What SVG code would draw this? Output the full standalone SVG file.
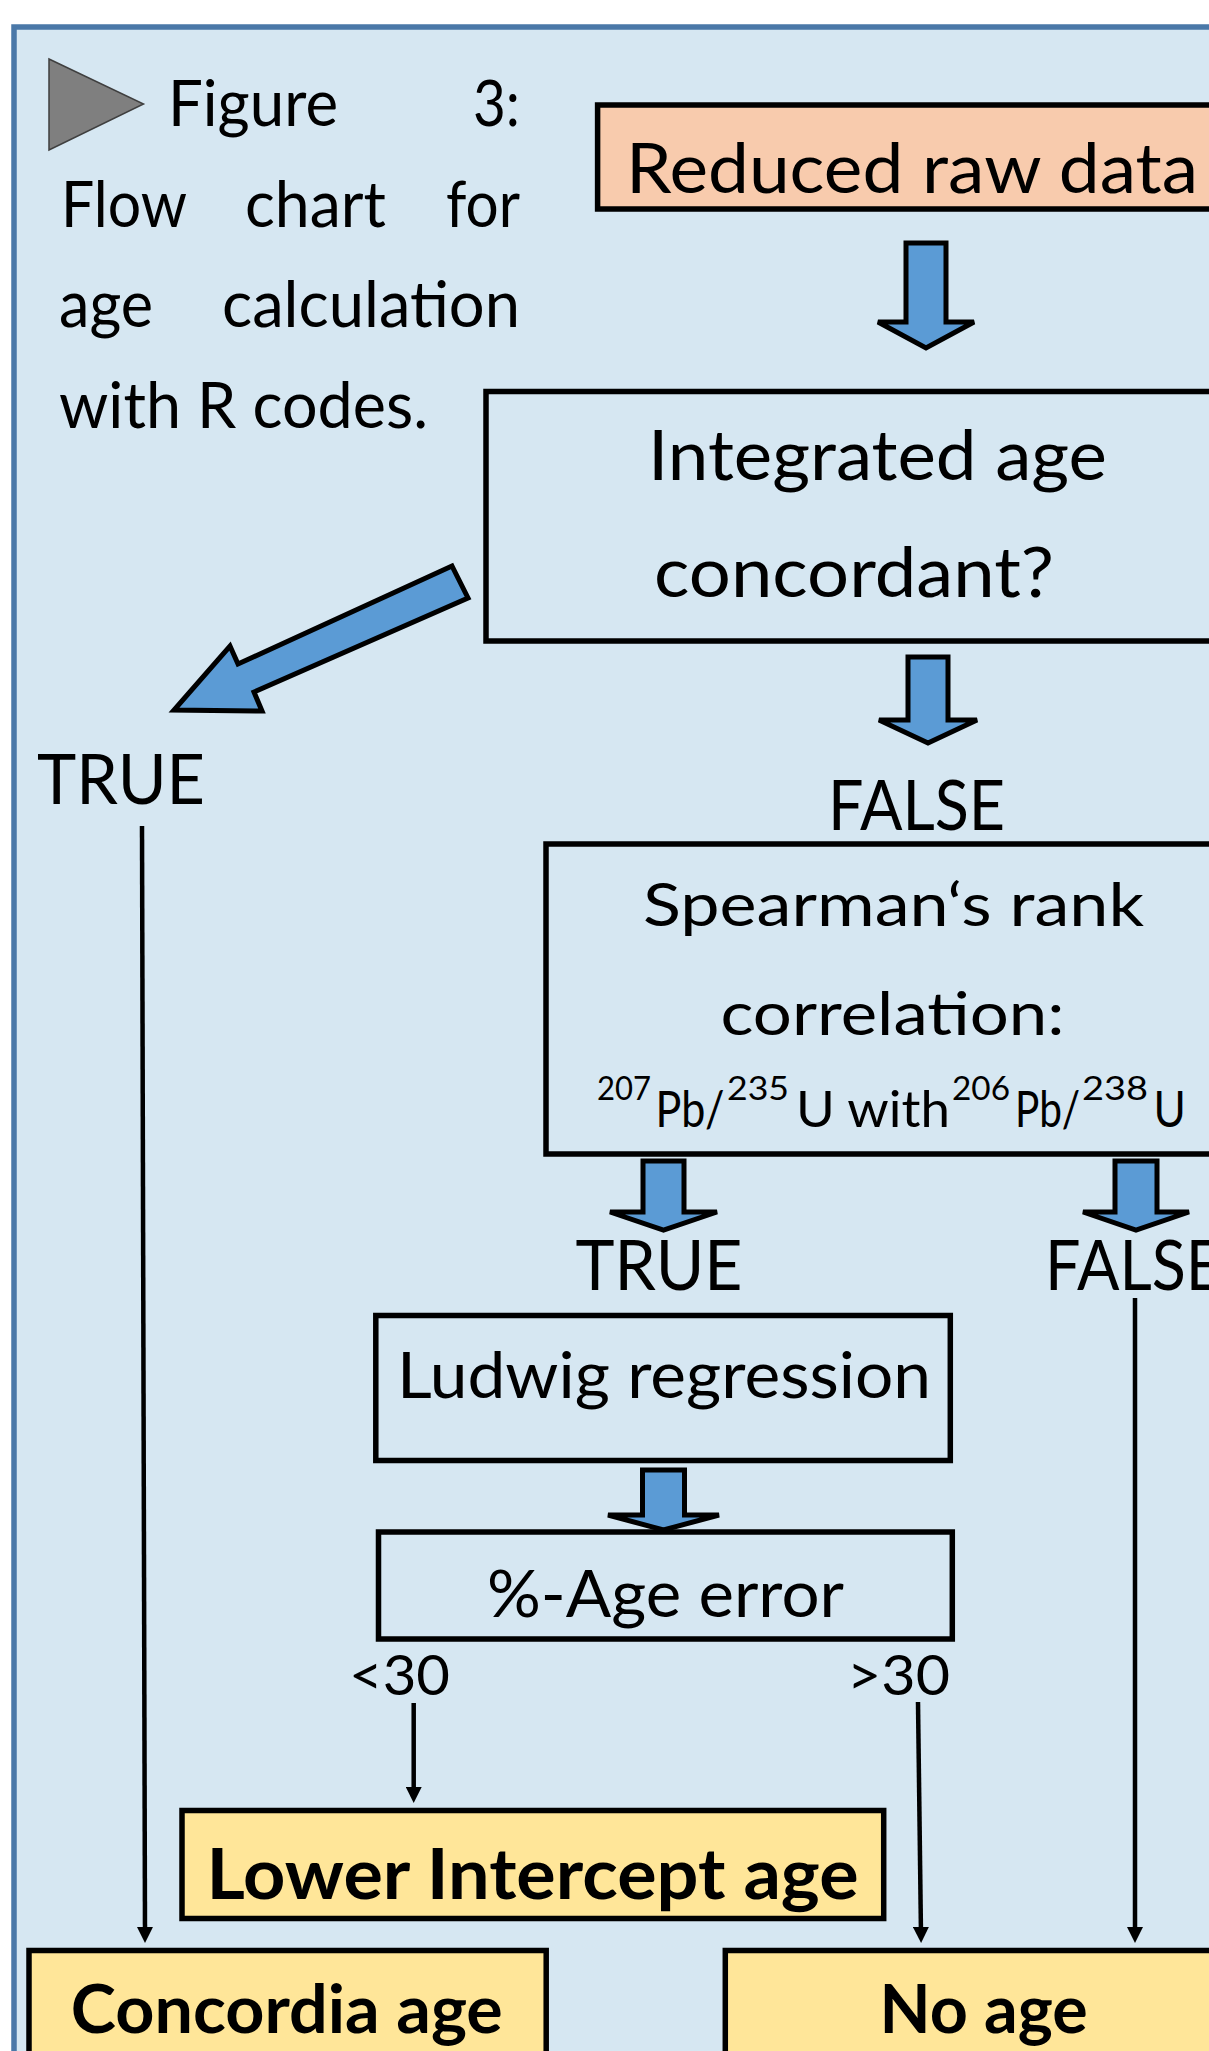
<svg xmlns="http://www.w3.org/2000/svg" width="1209" height="2051" viewBox="0 0 1209 2051">
<style>
text{font-family:Lato,"Open Sans","Liberation Sans",sans-serif;fill:#000}
.box{stroke:#000;stroke-width:5.5}
.plain{fill:none}
.yel{fill:#ffe699}
.barrow{fill:#5b9bd5;stroke:#000;stroke-width:5;stroke-linejoin:miter}
.conn{stroke:#000;stroke-width:4.5;fill:none}
.b{font-weight:bold}
</style>
<defs>
<marker id="ah" markerUnits="userSpaceOnUse" markerWidth="16" markerHeight="16" refX="8" refY="8" orient="auto">
<path d="M0,0 L16,8 L0,16 z" fill="#000"/>
</marker>
</defs>
<rect x="0" y="0" width="1209" height="2051" fill="#fff"/>
<rect id="frame" x="14" y="27" width="1300" height="2100" fill="#d6e7f2" stroke="#4a78a8" stroke-width="5.5"/>

<g id="caption">
<polygon points="49,59 143.5,104 49,150" fill="#7f7f7f" stroke="#3f3f3f" stroke-width="1.5"/>
<text x="168" y="126" font-size="63" textLength="170" lengthAdjust="spacingAndGlyphs">Figure</text>
<text x="473" y="126" font-size="63" textLength="47" lengthAdjust="spacingAndGlyphs">3:</text>
<text x="61" y="227" font-size="63" textLength="126" lengthAdjust="spacingAndGlyphs">Flow</text>
<text x="245" y="227" font-size="63" textLength="141" lengthAdjust="spacingAndGlyphs">chart</text>
<text x="446" y="227" font-size="63" textLength="74" lengthAdjust="spacingAndGlyphs">for</text>
<text x="59" y="327" font-size="63" textLength="94" lengthAdjust="spacingAndGlyphs">age</text>
<text x="222" y="327" font-size="63" textLength="298" lengthAdjust="spacingAndGlyphs">calculation</text>
<text x="59" y="428" font-size="63" textLength="369" lengthAdjust="spacingAndGlyphs">with R codes.</text>
</g>

<g id="reduced">
<rect class="box" x="597.6" y="105" width="700" height="104" fill="#f8cbad"/>
<text x="626" y="193" font-size="70" textLength="572" lengthAdjust="spacingAndGlyphs">Reduced raw data</text>
</g>

<g id="integrated">
<rect class="box plain" x="486" y="391.5" width="800" height="249.5"/>
<text x="648" y="480" font-size="70" textLength="459" lengthAdjust="spacingAndGlyphs">Integrated age</text>
<text x="654" y="597" font-size="70" textLength="400" lengthAdjust="spacingAndGlyphs">concordant?</text>
</g>

<g id="true1">
<text x="37" y="804" font-size="70" textLength="168" lengthAdjust="spacingAndGlyphs">TRUE</text>
</g>

<g id="false1">
<text x="828" y="830" font-size="70" textLength="177" lengthAdjust="spacingAndGlyphs">FALSE</text>
</g>

<g id="spearman">
<rect class="box plain" x="546" y="844" width="700" height="310"/>
<text x="643" y="926" font-size="60" textLength="501" lengthAdjust="spacingAndGlyphs">Spearman‘s rank</text>
<text x="720.5" y="1035" font-size="60" textLength="344" lengthAdjust="spacingAndGlyphs">correlation:</text>
<text font-size="51"><tspan x="597" y="1100" font-size="33" textLength="54" lengthAdjust="spacingAndGlyphs">207</tspan><tspan x="655.6" y="1126.7" textLength="69" lengthAdjust="spacingAndGlyphs">Pb/</tspan><tspan x="727" y="1100" font-size="33" textLength="62" lengthAdjust="spacingAndGlyphs">235</tspan><tspan x="796" y="1126.7" textLength="154" lengthAdjust="spacingAndGlyphs">U with</tspan><tspan x="952" y="1100" font-size="33" textLength="58" lengthAdjust="spacingAndGlyphs">206</tspan><tspan x="1015" y="1126.7" textLength="65" lengthAdjust="spacingAndGlyphs">Pb/</tspan><tspan x="1082" y="1100" font-size="33" textLength="66" lengthAdjust="spacingAndGlyphs">238</tspan><tspan x="1153.6" y="1126.7" textLength="32.4" lengthAdjust="spacingAndGlyphs">U</tspan></text>
</g>

<g id="true2">
<text x="575.5" y="1290" font-size="70" textLength="167" lengthAdjust="spacingAndGlyphs">TRUE</text>
</g>

<g id="false2">
<text x="1045" y="1289.5" font-size="70" textLength="177" lengthAdjust="spacingAndGlyphs">FALSE</text>
</g>

<g id="ludwig">
<rect class="box plain" x="375.8" y="1315.5" width="574.5" height="145"/>
<text x="397" y="1398" font-size="63" textLength="534" lengthAdjust="spacingAndGlyphs">Ludwig regression</text>
</g>

<g id="ageerror">
<rect class="box plain" x="378.5" y="1532" width="573.8" height="107"/>
<text x="487" y="1617" font-size="65" textLength="357" lengthAdjust="spacingAndGlyphs">%-Age error</text>
<text x="349" y="1695" font-size="56" textLength="101" lengthAdjust="spacingAndGlyphs">&lt;30</text>
<text x="847" y="1695" font-size="56" textLength="103" lengthAdjust="spacingAndGlyphs">&gt;30</text>
</g>

<g id="lowerintercept">
<rect class="box yel" x="182" y="1810.5" width="701.7" height="108"/>
<text class="b" x="206.6" y="1899.3" font-size="70" textLength="652" lengthAdjust="spacingAndGlyphs">Lower Intercept age</text>
</g>

<g id="concordia">
<rect class="box yel" x="29" y="1950.5" width="517.2" height="200"/>
<text class="b" x="70.8" y="2033.3" font-size="67" textLength="432" lengthAdjust="spacingAndGlyphs">Concordia age</text>
</g>

<g id="noage">
<rect class="box yel" x="725.3" y="1950.5" width="600" height="200"/>
<text class="b" x="879.6" y="2033.3" font-size="67" textLength="208" lengthAdjust="spacingAndGlyphs">No age</text>
</g>

<g id="connectors">
<polygon class="barrow" points="906,243 946,243 946,322 974,322 926,348 878,322 906,322"/>
<polygon class="barrow" points="908,657 948,657 948,720 977,720 928,743 879,720 908,720"/>
<polygon class="barrow" points="452,566 468,598 254,692 262,711 174,710 230,646 238,664"/>
<polygon class="barrow" points="643,1161 684,1161 684,1212 717,1212 663.5,1230 610,1212 643,1212"/>
<polygon class="barrow" points="1115,1161 1157,1161 1157,1212 1189,1212 1136,1230 1083,1212 1115,1212"/>
<polygon class="barrow" points="642.5,1470 684.5,1470 684.5,1515 719,1515 663.5,1530 608,1515 642.5,1515"/>
<line class="conn" x1="142" y1="826" x2="145" y2="1935" marker-end="url(#ah)"/>
<line class="conn" x1="1135" y1="1298" x2="1135" y2="1935" marker-end="url(#ah)"/>
<line class="conn" x1="413.7" y1="1703" x2="413.7" y2="1795" marker-end="url(#ah)"/>
<line class="conn" x1="918" y1="1702" x2="921" y2="1935" marker-end="url(#ah)"/>
</g>
</svg>
